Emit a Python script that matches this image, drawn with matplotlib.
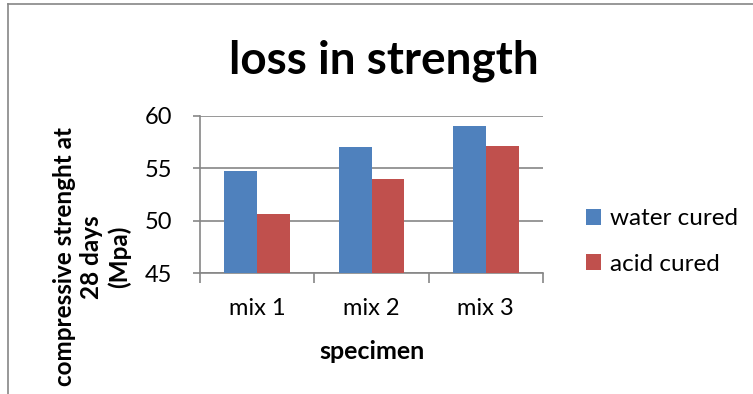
import matplotlib.pyplot as plt
import numpy as np
from matplotlib.lines import Line2D

# compressive strength at 28 days (MPa)
mixes = ["mix 1", "mix 2", "mix 3"]
water_cured = [54.7, 57.0, 59.0]
acid_cured = [50.6, 54.0, 57.1]

BLUE = "#4F81BD"
RED = "#C0504D"
GRID = "#868686"

plt.rcParams['font.family'] = ['Lato', 'DejaVu Sans']

fig = plt.figure(figsize=(7.53, 3.94), dpi=100)
ax = fig.add_axes([200/753, 1 - 273/394, 343/753, 157/394])

x = np.arange(len(mixes))
w = 0.286
ax.bar(x - w/2, water_cured, w, color=BLUE, label="water cured", zorder=3)
ax.bar(x + w/2, acid_cured, w, color=RED, label="acid cured", zorder=3)

ax.set_xlim(-0.5, 2.5)
ax.set_ylim(45, 60)
ax.set_yticks([45, 50, 55, 60])
ax.yaxis.grid(True, color=GRID, linewidth=1.2)
ax.set_axisbelow(True)

ax.set_xticks(x)
ax.set_xticklabels(mixes, fontsize=17)
ax.set_xticks([-0.5, 0.5, 1.5, 2.5], minor=True)
ax.tick_params(axis='x', which='major', length=0, pad=18)
ax.tick_params(axis='x', which='minor', length=7, width=1.2, color=GRID)
ax.tick_params(axis='y', length=5, width=1.2, color=GRID, labelsize=17, pad=15)

for side in ["top", "right"]:
    ax.spines[side].set_visible(False)
for side in ["left", "bottom"]:
    ax.spines[side].set_color(GRID)
    ax.spines[side].set_linewidth(1.2)

ax.set_xlabel("specimen", fontsize=18, fontweight='bold', labelpad=15)
fig.text(92/753, 1 - 257/394, "compressive strenght at\n28 days\n(Mpa)",
         rotation=90, ha='center', va='center', fontsize=17.5,
         fontweight='bold', multialignment='center', linespacing=1.2)

fig.text(384/753, 1 - 73/394, "loss in strength", ha='center', va='baseline',
         fontsize=33, fontweight='bold')

ax.legend(loc='center left', bbox_to_anchor=(1.063, 0.2), frameon=False,
          fontsize=17.5, handlelength=0.6, handleheight=0.6,
          labelspacing=1.0, handletextpad=0.35)

# outer chart border
fig.add_artist(Line2D([8/753, 8/753], [0, 1 - 4/394], color=GRID, lw=1.2,
                      transform=fig.transFigure))
fig.add_artist(Line2D([8/753, 1], [1 - 4/394, 1 - 4/394], color=GRID, lw=1.2,
                      transform=fig.transFigure))

fig.savefig("out.png", dpi=100)
